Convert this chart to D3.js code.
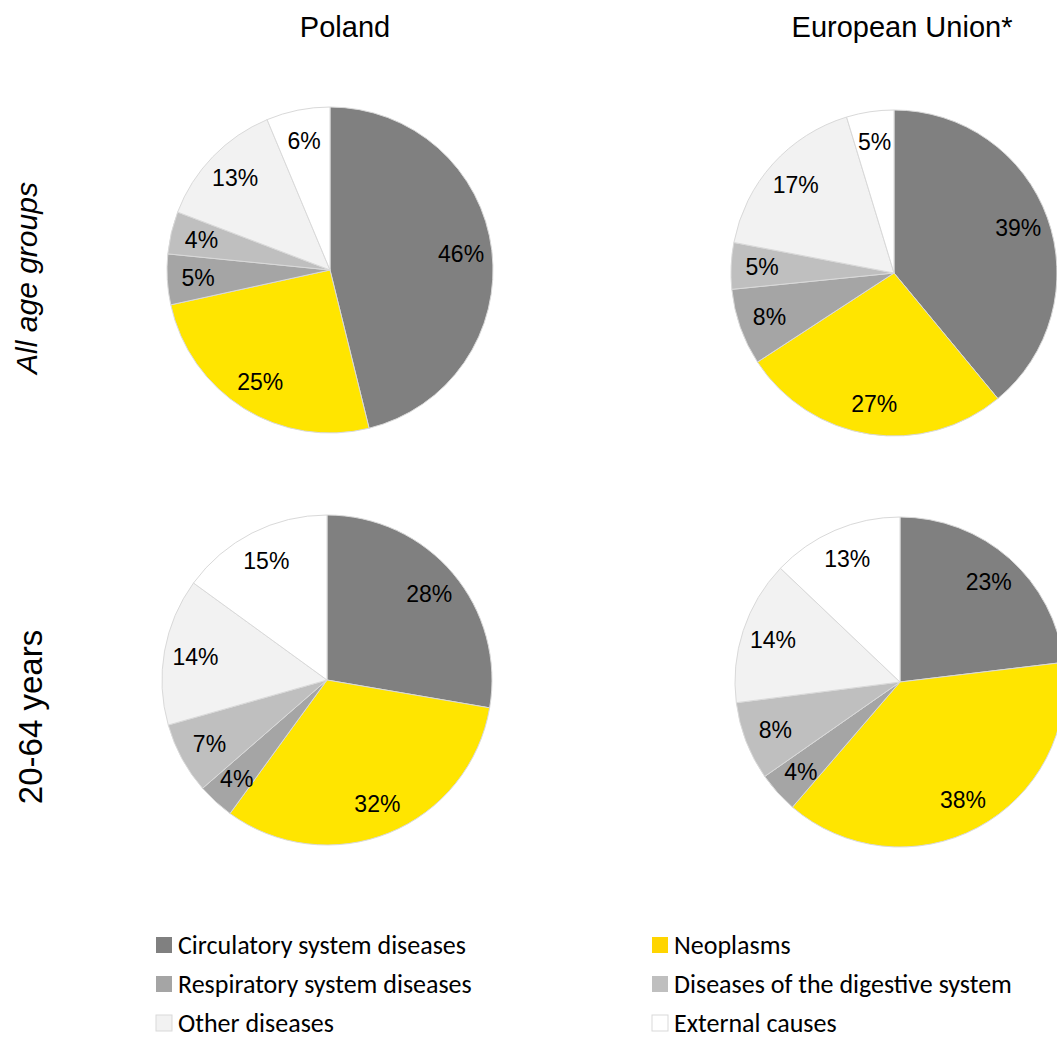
<!DOCTYPE html>
<html>
<head>
<meta charset="utf-8">
<script src="https://cdn.jsdelivr.net/npm/d3@7"></script>
<style>
    html, body { margin: 0; padding: 0; background: #fff; }
    svg { display: block; }
</style>
</head>
<body>
<div id="chart"></div>
<script>
// causes of death, clockwise from 12 o'clock
const causes = [
    'Circulatory system diseases',
    'Neoplasms',
    'Respiratory system diseases',
    'Diseases of the digestive system',
    'Other diseases',
    'External causes'
];
const colors = ['#808080', '#FFE500', '#A5A5A5', '#BFBFBF', '#F2F2F2', '#FFFFFF'];

const regions = ['Poland', 'European Union*'];
const ageGroups = ['All age groups', '20-64 years'];

// shares in %, same order as causes
const polandAll = [46.1, 25.4, 5.0, 4.2, 12.9, 6.3];
const euAll = [39.0, 26.8, 7.6, 4.6, 17.3, 4.7];
const poland2064 = [27.7, 32.3, 3.6, 7.0, 14.4, 15.0];
const eu2064 = [23.1, 38.2, 4.0, 7.7, 14.1, 12.9];

// legend order (two columns)
const legendOrder = [0, 1, 2, 3, 4, 5];

const width = 1057;
const height = 1040;

const svg = d3.select('#chart')
    .append('svg')
    .attr('width', width)
    .attr('height', height);

// layout
const panels = [
    { values: polandAll, cx: 330, cy: 270, r: 163 },
    { values: euAll, cx: 894, cy: 273, r: 163 },
    { values: poland2064, cx: 327, cy: 680, r: 165 },
    { values: eu2064, cx: 900, cy: 682, r: 165 }
];
const titleX = [345, 902];

const pie = d3.pie().sort(null).value(d => d);

panels.forEach(p => {
    const arc = d3.arc().innerRadius(0).outerRadius(p.r);
    const labelArc = d3.arc().innerRadius(p.r * 0.81).outerRadius(p.r * 0.81);

    const g = svg.append('g')
        .attr('transform', `translate(${p.cx}, ${p.cy})`);

    const arcs = pie(p.values);

    g.selectAll('path')
        .data(arcs)
        .join('path')
        .attr('d', arc)
        .attr('fill', (d, i) => colors[i])
        .attr('stroke', '#D9D9D9')
        .attr('stroke-width', 1);

    g.selectAll('text')
        .data(arcs)
        .join('text')
        .attr('transform', d => `translate(${labelArc.centroid(d)})`)
        .attr('text-anchor', 'middle')
        .attr('dominant-baseline', 'central')
        .style('font-family', '"Liberation Sans", Arial, sans-serif')
        .style('font-size', '23px')
        .attr('fill', '#000')
        .text(d => Math.round(d.data) + '%');
});

// column titles
svg.selectAll('.title')
    .data(regions)
    .join('text')
    .attr('class', 'title')
    .attr('x', (d, i) => titleX[i])
    .attr('y', 37)
    .attr('text-anchor', 'middle')
    .style('font-family', '"Liberation Sans", Arial, sans-serif')
    .style('font-size', '29px')
    .text(d => d);

// row titles
svg.selectAll('.row-title')
    .data(ageGroups)
    .join('text')
    .attr('class', 'row-title')
    .attr('transform', (d, i) => `translate(${[37, 42][i]}, ${[278, 717][i]}) rotate(-90)`)
    .attr('text-anchor', 'middle')
    .style('font-family', '"Liberation Sans", Arial, sans-serif')
    .style('font-size', (d, i) => i === 0 ? '30px' : '33px')
    .style('font-style', (d, i) => i === 0 ? 'italic' : 'normal')
    .text(d => d);

// legend
const legend = svg.append('g').attr('class', 'legend');
const legendItems = legend.selectAll('g')
    .data(legendOrder)
    .join('g')
    .attr('transform', (d, i) => `translate(${[156, 652][i % 2]}, ${945 + Math.floor(i / 2) * 39})`);

legendItems.append('rect')
    .attr('x', 0)
    .attr('y', -8)
    .attr('width', 16)
    .attr('height', 16)
    .attr('fill', d => d === 1 ? '#FFD500' : colors[d])
    .attr('stroke', d => d >= 4 ? '#D9D9D9' : 'none')
    .attr('stroke-width', 1);

legendItems.append('text')
    .attr('x', 22)
    .attr('y', 0)
    .attr('dominant-baseline', 'central')
    .style('font-family', 'Carlito, Calibri, Lato, sans-serif')
    .style('font-size', '26px')
    .attr('fill', '#000')
    .text(d => causes[d]);
</script>
</body>
</html>
